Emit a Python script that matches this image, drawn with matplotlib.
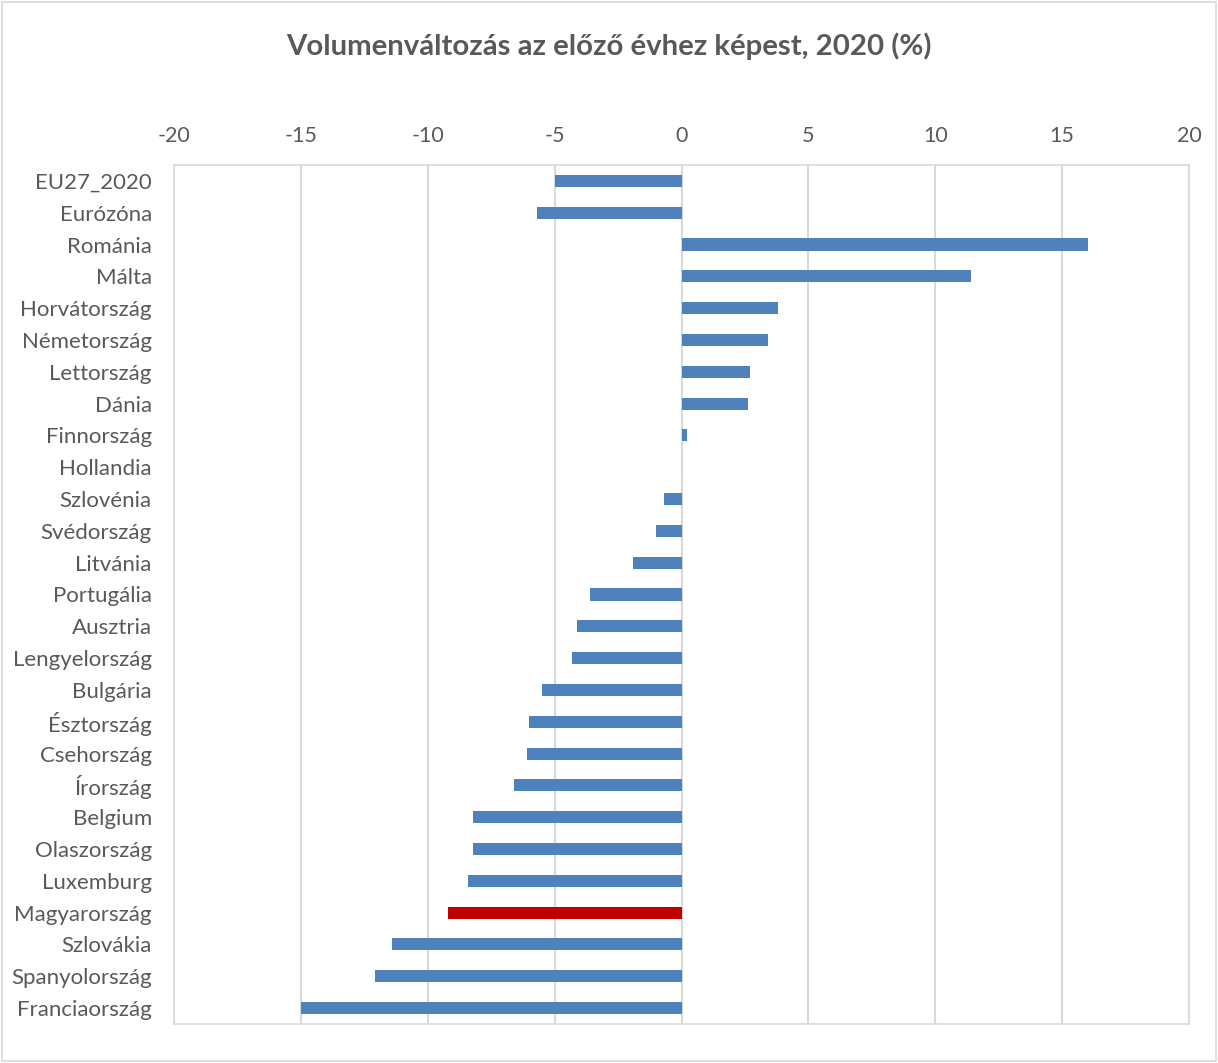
import numpy as np
import matplotlib.pyplot as plt

countries = [
    "EU27_2020", "Eurózóna", "Románia", "Málta", "Horvátország",
    "Németország", "Lettország", "Dánia", "Finnország", "Hollandia",
    "Szlovénia", "Svédország", "Litvánia", "Portugália", "Ausztria",
    "Lengyelország", "Bulgária", "Észtország", "Csehország", "Írország",
    "Belgium", "Olaszország", "Luxemburg", "Magyarország", "Szlovákia",
    "Spanyolország", "Franciaország",
]
change = [
    -5.0, -5.7, 16.0, 11.4, 3.8,
    3.4, 2.7, 2.6, 0.2, 0.0,
    -0.7, -1.0, -1.9, -3.6, -4.1,
    -4.3, -5.5, -6.0, -6.1, -6.6,
    -8.2, -8.2, -8.4, -9.2, -11.4,
    -12.1, -15.0,
]
highlight = "Magyarország"
x_ticks = [-20, -15, -10, -5, 0, 5, 10, 15, 20]

blue = "#4f81bd"
red = "#c00000"
grey_text = "#595959"
grid_col = "#d9d9d9"

plt.rcParams["font.family"] = ["Lato", "DejaVu Sans"]

fig = plt.figure(figsize=(12.18, 10.63), dpi=100)
ax = fig.add_axes([0.1429, 0.0367, 0.8333, 0.8081])

y = np.arange(len(countries))
colors = [red if c == highlight else blue for c in countries]
ax.barh(y, change, height=0.38, color=colors, zorder=3)

ax.set_xlim(-20, 20)
ax.set_ylim(len(countries) - 0.5, -0.5)
ax.set_xticks(x_ticks)
ax.set_xticklabels([str(t) for t in x_ticks])
ax.set_yticks(y)
ax.set_yticklabels(countries)

ax.xaxis.tick_top()
ax.tick_params(axis="x", length=0, pad=14, labelsize=15.5, colors=grey_text)
ax.tick_params(axis="y", length=0, pad=16, labelsize=16, colors=grey_text)

ax.grid(axis="x", color=grid_col, linewidth=1.5, zorder=0)
for side in ["top", "bottom", "left", "right"]:
    ax.spines[side].set_color(grid_col)
    ax.spines[side].set_linewidth(1.2)

fig.text(0.5, 0.957, "Volumenváltozás az előző évhez képest, 2020 (%)",
         ha="center", va="center", fontsize=21.2, fontweight="bold", color=grey_text)

# light frame around the whole chart area
fig.patches.append(plt.Rectangle((0.002, 0.002), 0.996, 0.996, transform=fig.transFigure,
                                 fill=False, edgecolor=grid_col, linewidth=1.2))

fig.savefig("out.png", dpi=100)
